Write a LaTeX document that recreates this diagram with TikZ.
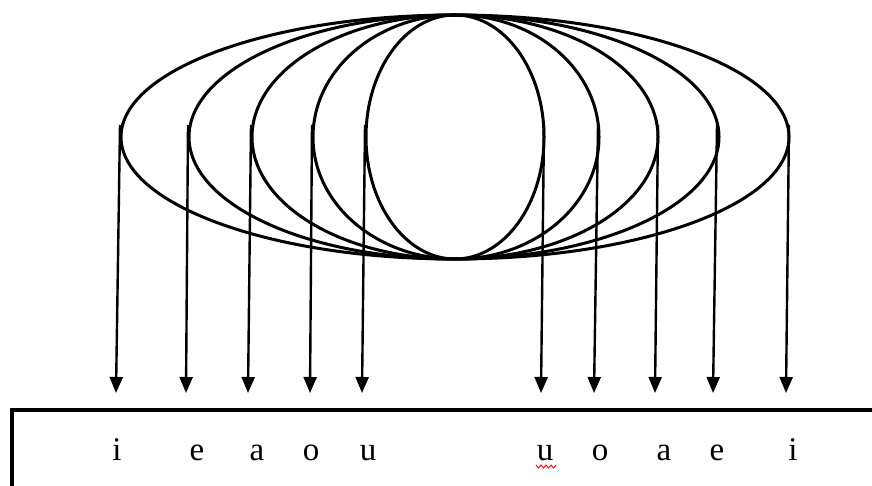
\documentclass[tikz,border=0pt]{standalone}
\usepackage{fontspec}
\setmainfont{Liberation Serif}
\usetikzlibrary{arrows.meta,shapes.geometric}
\begin{document}
\begin{tikzpicture}[x=1pt,y=-1pt,
  ell/.style={draw=black,line width=3pt,ellipse,inner sep=0pt,minimum height=244pt},
  arr/.style={line width=2.4pt,-{Triangle[length=16pt,width=13pt]}},
  vowel/.style={font=\fontsize{33}{38}\selectfont,inner sep=0pt,anchor=base}]
\useasboundingbox (0,0) rectangle (872,486);
\node[ell,minimum width=668pt] (e1) at (455,137) {};
\node[ell,minimum width=530pt] (e2) at (454,137) {};
\node[ell,minimum width=406pt] (e3) at (455,137) {};
\node[ell,minimum width=286pt] (e4) at (456,137) {};
\node[ell,minimum width=178pt] (e5) at (455,137) {};
% arrow ends
\coordinate (t1) at (116,393);
\coordinate (t2) at (186,393);
\coordinate (t3) at (248,393);
\coordinate (t4) at (310,393);
\coordinate (t5) at (362,393);
\coordinate (t6) at (541,393);
\coordinate (t7) at (594,393);
\coordinate (t8) at (655,393);
\coordinate (t9) at (713,393);
\coordinate (t10) at (786,393);
\coordinate (s1) at (120,125);
\coordinate (s2) at (188,125);
\coordinate (s3) at (251,125);
\coordinate (s4) at (312,125);
\coordinate (s5) at (365,125);
\coordinate (s6) at (544,125);
\coordinate (s7) at (598,125);
\coordinate (s8) at (658,125);
\coordinate (s9) at (717,125);
\coordinate (s10) at (789,125);
\foreach \i in {1,...,10} \draw[arr] (s\i) -- (t\i);
% box
\draw[line width=3.2pt] (880,410) -- (12,410) -- (12,495);
% vowels
\node[vowel] (v1) at (117,460) {i};
\node[vowel] (v2) at (197,460) {e};
\node[vowel] (v3) at (257,460) {a};
\node[vowel] (v4) at (311,460) {o};
\node[vowel] (v5) at (368,460) {u};
\node[vowel] (v6) at (545,460) {u};
\node[vowel] (v7) at (600,460) {o};
\node[vowel] (v8) at (664,460) {a};
\node[vowel] (v9) at (717,460) {e};
\node[vowel] (v10) at (793,460) {i};
\draw[red,line width=0.9pt] (536,465) -- (538.5,468) -- (541,465) -- (543.5,468) -- (546,465) -- (548.5,468) -- (551,465) -- (553.5,468) -- (556,465);
\end{tikzpicture}
\end{document}
